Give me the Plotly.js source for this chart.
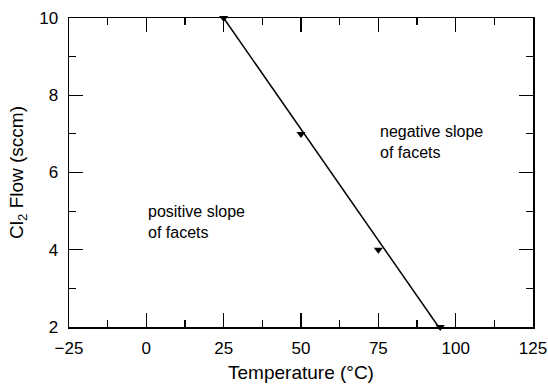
<!DOCTYPE html>
<html>
<head>
<meta charset="utf-8">
<script src="https://cdn.plot.ly/plotly-3.0.1.min.js"></script>
<style>
html,body{margin:0;padding:0;background:#fff;}
#chart{width:548px;height:387px;}
</style>
</head>
<body>
<div id="chart"></div>
<script>
// measured points
const tempC = [25, 50, 75, 95];
const cl2Flow = [10, 7, 4, 2];
// boundary line (fit)
const lineTemp = [25, 94.5];
const lineFlow = [10, 2];

const xTickVals = [-25, 0, 25, 50, 75, 100, 125];
const xTickText = ['\u221225', '0', '25', '50', '75', '100', '125'];
const yTickVals = [2, 4, 6, 8, 10];

const tickFont = {family: 'Liberation Sans, Arial, sans-serif', size: 17, color: '#000'};
const titleFont = {family: 'Liberation Sans, Arial, sans-serif', size: 19, color: '#000'};
const noteFont = {family: 'Liberation Sans Narrow, Arial Narrow, Liberation Sans, sans-serif', size: 16, color: '#000'};

const traces = [
  {x: lineTemp, y: lineFlow, mode: 'lines', line: {color: '#000', width: 1.5}, hoverinfo: 'skip'},
  {x: tempC, y: cl2Flow, mode: 'markers', marker: {symbol: 'triangle-down', size: 8, color: '#000'}, cliponaxis: false}
];

const axisCommon = {
  showline: true, linecolor: '#000', linewidth: 1.5, mirror: 'allticks',
  ticks: 'inside', ticklen: 14, tickwidth: 1.2, tickcolor: '#000',
  showgrid: false, zeroline: false, tickfont: tickFont, automargin: false
};

const px2x = p => -25 + (p - 68.5) / (533 - 68.5) * 150;
const py2y = p => 10 - (p - 17.5) / (327 - 17.5) * 8;

const layout = {
  width: 548, height: 387,
  margin: {l: 68.5, r: 15, t: 17.5, b: 60},
  paper_bgcolor: '#fff', plot_bgcolor: '#fff',
  showlegend: false,
  font: tickFont,
  xaxis: Object.assign({}, axisCommon, {
    range: [-25, 125], tickvals: xTickVals, ticktext: xTickText, ticklabelstandoff: 5,
    minor: {dtick: 12.5, tick0: -25, ticks: 'inside', ticklen: 7, tickwidth: 1.2, tickcolor: '#000'},
    title: {text: 'Temperature (\u00B0C)', font: titleFont, standoff: 9}
  }),
  yaxis: Object.assign({}, axisCommon, {
    range: [2, 10], tickvals: yTickVals, ticklabelstandoff: 6,
    minor: {dtick: 1, tick0: 2, ticks: 'inside', ticklen: 7, tickwidth: 1.2, tickcolor: '#000'},
    title: {text: 'Cl<sub>2</sub> Flow (sccm)', font: titleFont, standoff: 10}
  }),
  annotations: [
    {x: px2x(378), y: py2y(142), xref: 'x', yref: 'y', text: 'negative slope<br>of facets', showarrow: false, align: 'left', xanchor: 'left', yanchor: 'middle', font: noteFont},
    {x: px2x(146), y: py2y(221.5), xref: 'x', yref: 'y', text: 'positive slope<br>of facets', showarrow: false, align: 'left', xanchor: 'left', yanchor: 'middle', font: noteFont}
  ]
};

Plotly.newPlot('chart', traces, layout, {displayModeBar: false, staticPlot: true});
</script>
</body>
</html>
